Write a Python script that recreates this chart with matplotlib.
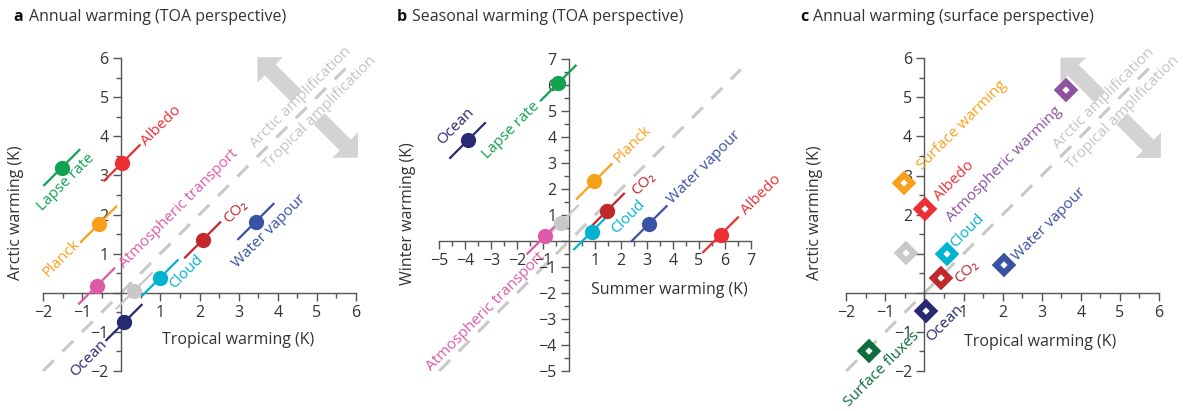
import matplotlib
matplotlib.use("Agg")
import matplotlib.pyplot as plt
from matplotlib.patches import FancyArrow
from matplotlib.ticker import MultipleLocator, FuncFormatter

plt.rcParams["font.family"] = ["Open Sans", "DejaVu Sans"]

# ---- data ----
# a: annual warming, TOA perspective
A_NAMES = ["Lapse rate", "Albedo", "Planck", "Atmospheric transport", "sum",
           "Cloud", "CO₂", "Water vapour", "Ocean"]
A_TROPICAL = [-1.52, 0.02, -0.58, -0.63, 0.33, 0.99, 2.08, 3.44, 0.07]
A_ARCTIC = [3.20, 3.32, 1.75, 0.17, 0.05, 0.38, 1.35, 1.82, -0.76]

# b: seasonal warming, TOA perspective
B_NAMES = ["Ocean", "Lapse rate", "Planck", "CO₂", "Cloud", "sum",
           "Atmospheric transport", "Water vapour", "Albedo"]
B_SUMMER = [-3.91, -0.42, 0.96, 1.44, 0.86, -0.33, -0.94, 3.08, 5.83]
B_WINTER = [3.87, 6.08, 2.29, 1.15, 0.35, 0.69, 0.18, 0.67, 0.24]

# c: annual warming, surface perspective
C_NAMES = ["Surface warming", "Albedo", "sum", "Cloud", "CO₂", "Water vapour",
           "Atmospheric warming", "Ocean", "Surface fluxes"]
C_TROPICAL = [-0.53, 0.02, -0.48, 0.58, 0.41, 2.03, 3.63, 0.03, -1.42]
C_ARCTIC = [2.82, 2.14, 1.01, 0.99, 0.37, 0.71, 5.19, -0.46, -1.49]

# ---- styling ----
COLORS = {
    "Lapse rate": "#12a350", "Albedo": "#ec2f35", "Planck": "#f8a01c",
    "Atmospheric transport": "#dd5aa8", "sum": "#c8c8c8", "Cloud": "#00b4d0",
    "CO₂": "#c0282c", "Water vapour": "#3a52a3", "Ocean": "#272a72",
    "Surface warming": "#f8a01c", "Atmospheric warming": "#8d52a0",
    "Surface fluxes": "#0d6e3b",
}
# label centre offsets from the marker (data units)
A_OFF = {"Lapse rate": (0.10, -0.39), "Albedo": (0.99, 0.94), "Planck": (-0.96, -0.87),
         "Atmospheric transport": (2.09, 1.99), "Cloud": (0.66, 0.16),
         "CO₂": (0.85, 0.72), "Water vapour": (0.35, -0.26), "Ocean": (-0.91, -0.92)}
B_OFF = {"Ocean": (-0.46, 0.54), "Lapse rate": (-1.80, -1.82), "Planck": (1.46, 1.45),
         "CO₂": (1.41, 1.07), "Cloud": (1.41, 0.57), "Water vapour": (2.10, 2.15),
         "Albedo": (1.57, 1.55), "Atmospheric transport": (-2.27, -2.91)}
C_OFF = {"Surface warming": (1.49, 1.47), "Albedo": (0.75, 0.73),
         "Atmospheric warming": (-1.60, -1.90), "Cloud": (0.51, 0.59),
         "CO₂": (0.68, 0.17), "Water vapour": (1.15, 1.05), "Ocean": (0.50, -0.32),
         "Surface fluxes": (0.34, -0.47)}

GREY = "#c8c8c8"
AXC = "#555555"
TXT = "#333333"
FS = 11.5     # ticks, axis titles
LFS = 11      # in-plot labels
W, H = 1183, 411


def _fmt(v, pos):
    if abs(v) < 1e-9:
        return ""
    return f"{int(v)}" if v > 0 else f"\u2212{int(-v)}"


def setup_axes(rect, lim_x, lim_y):
    ax = fig.add_axes(rect)
    ax.set_xlim(*lim_x)
    ax.set_ylim(*lim_y)
    ax.set_aspect("equal")
    for s in ("top", "right"):
        ax.spines[s].set_visible(False)
    for s in ("left", "bottom"):
        ax.spines[s].set_position(("data", 0))
        ax.spines[s].set_color(AXC)
        ax.spines[s].set_linewidth(1.0)
    ax.xaxis.set_major_locator(MultipleLocator(1))
    ax.yaxis.set_major_locator(MultipleLocator(1))
    ax.xaxis.set_minor_locator(MultipleLocator(0.5))
    ax.yaxis.set_minor_locator(MultipleLocator(0.5))
    ax.xaxis.set_major_formatter(FuncFormatter(_fmt))
    ax.yaxis.set_major_formatter(FuncFormatter(_fmt))
    ax.tick_params(which="major", length=6, width=1, color=AXC, labelsize=FS,
                   labelcolor=TXT, pad=3)
    ax.tick_params(which="minor", length=3.5, width=1, color=AXC)
    ax.patch.set_visible(False)
    return ax


def diag(ax, lo, hi):
    ax.plot([lo, hi], [lo, hi], color=GREY, lw=2.2, dashes=(5, 4), zorder=1,
            clip_on=False)


def amp_arrows(ax):
    kw = dict(width=0.40, head_width=0.92, head_length=0.46,
              length_includes_head=True, color="#d3d3d3", lw=0, zorder=0,
              clip_on=False)
    ax.add_patch(FancyArrow(4.48, 5.02, -1.0, 1.0, **kw))
    ax.add_patch(FancyArrow(5.05, 4.45, 1.0, -1.0, **kw))
    ax.text(4.60, 4.98, "Arctic amplification", rotation=45, color="#c4c4c4",
            fontsize=LFS, ha="center", va="center", rotation_mode="anchor",
            clip_on=False, zorder=2)
    ax.text(5.08, 4.60, "Tropical amplification", rotation=45, color="#c4c4c4",
            fontsize=LFS, ha="center", va="center", rotation_mode="anchor",
            clip_on=False, zorder=2)


def points(ax, names, xs, ys, offs, half=None, diamond=False):
    for n, x, y in zip(names, xs, ys):
        c = COLORS[n]
        if half is not None:
            ax.plot([x - half, x + half], [y - half, y + half], color=c, lw=1.6,
                    zorder=3, clip_on=False, solid_capstyle="butt")
        if diamond:
            ax.plot(x, y, marker="D", ms=8.6, mfc="white", mec=c, mew=4.4,
                    zorder=4, clip_on=False)
        else:
            ax.plot(x, y, marker="o", ms=11, color=c, mew=0, zorder=4,
                    clip_on=False)
        if n in offs:
            dx, dy = offs[n]
            ax.text(x + dx, y + dy, n, color=c, fontsize=LFS, rotation=45,
                    rotation_mode="anchor", ha="center", va="center",
                    clip_on=False, zorder=5)


def title(x_letter, x_text, letter, text):
    fig.text(x_letter / W, 1 - 17 / H, letter, fontsize=FS, weight="bold",
             color="#111111", va="center")
    fig.text(x_text / W, 1 - 17 / H, text, fontsize=FS, color=TXT, va="center")


fig = plt.figure(figsize=(W / 100, H / 100), dpi=100)

# ---- a ----
ax = setup_axes([43 / W, 1 - 371 / H, 313 / W, 313 / H], (-2, 6), (-2, 6))
diag(ax, -2, 5.9)
amp_arrows(ax)
points(ax, A_NAMES, A_TROPICAL, A_ARCTIC, A_OFF, half=0.47)
ax.text(-2.69, 2.05, "Arctic warming (K)", rotation=90, fontsize=FS, color=TXT,
        ha="center", va="center", clip_on=False)
ax.text(3.0, -1.2, "Tropical warming (K)", fontsize=FS, color=TXT,
        ha="center", va="center", clip_on=False)
title(13, 29, "a", "Annual warming (TOA perspective)")

# ---- b ----
ax = setup_axes([439.3 / W, 1 - 371.7 / H, 311.7 / W, 313.4 / H], (-5, 7), (-5, 7))
diag(ax, -5, 6.6)
points(ax, B_NAMES, B_SUMMER, B_WINTER, B_OFF, half=0.70)
ax.text(-6.2, 1.06, "Winter warming (K)", rotation=90, fontsize=FS, color=TXT,
        ha="center", va="center", clip_on=False)
ax.text(3.87, -1.9, "Summer warming (K)", fontsize=FS, color=TXT,
        ha="center", va="center", clip_on=False)
title(397, 412, "b", "Seasonal warming (TOA perspective)")

# ---- c ----
ax = setup_axes([846.3 / W, 1 - 371 / H, 312.7 / W, 312.7 / H], (-2, 6), (-2, 6))
diag(ax, -2, 5.9)
amp_arrows(ax)
points(ax, C_NAMES, C_TROPICAL, C_ARCTIC, C_OFF, diamond=True)
ax.text(-2.8, 2.05, "Arctic warming (K)", rotation=90, fontsize=FS, color=TXT,
        ha="center", va="center", clip_on=False)
ax.text(2.95, -1.25, "Tropical warming (K)", fontsize=FS, color=TXT,
        ha="center", va="center", clip_on=False)
title(800, 813, "c", "Annual warming (surface perspective)")

fig.savefig("out.png", dpi=100)
